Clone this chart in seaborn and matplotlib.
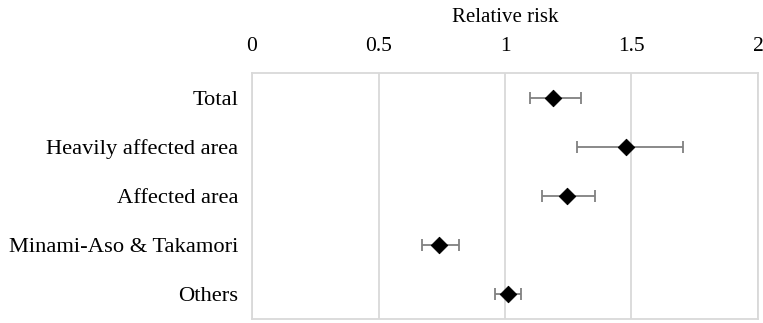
import numpy as np
import pandas as pd
import matplotlib
matplotlib.use("Agg")
import matplotlib.pyplot as plt
import seaborn as sns

# Values
groups = ["Total", "Heavily affected area", "Affected area",
          "Minami-Aso & Takamori", "Others"]
rr = [1.19, 1.48, 1.245, 0.74, 1.01]
ci_low = [1.10, 1.285, 1.145, 0.67, 0.96]
ci_high = [1.30, 1.705, 1.355, 0.82, 1.065]
x_ticks = [0, 0.5, 1, 1.5, 2]
x_tick_labels = ["0", "0.5", "1", "1.5", "2"]

df = pd.DataFrame({"group": groups, "rr": rr, "lo": ci_low, "hi": ci_high})

sns.set_style("white")
plt.rcParams["font.family"] = ["Liberation Serif", "DejaVu Serif"]
plt.rcParams["text.color"] = "black"
plt.rcParams["xtick.color"] = "black"
plt.rcParams["ytick.color"] = "black"
plt.rcParams["axes.labelcolor"] = "black"

fig = plt.figure(figsize=(7.63, 3.23), dpi=100)
ax = fig.add_axes([0.3303, 0.0124, 0.6631, 0.7616])

pos = np.arange(len(groups))
ax.errorbar(df["rr"], pos,
            xerr=[df["rr"] - df["lo"], df["hi"] - df["rr"]],
            fmt="none", ecolor="#808080", elinewidth=1.3, capsize=4, capthick=1.3,
            zorder=2)
sns.scatterplot(data=df, x="rr", y=pos, marker="D", color="black", s=70,
                edgecolor="black", ax=ax, zorder=3)

ax.set_xlim(0, 2)
ax.set_ylim(len(groups) - 0.5, -0.5)
ax.set_yticks(pos)
ax.set_yticklabels(groups, fontsize=16.2)
ax.set_xticks(x_ticks)
ax.set_xticklabels(x_tick_labels, fontsize=15.5)
ax.xaxis.tick_top()
ax.xaxis.set_label_position("top")
ax.set_xlabel("Relative risk", fontsize=15, labelpad=10.5)
ax.set_ylabel("")
ax.tick_params(axis="x", length=0, pad=12.5)
ax.tick_params(axis="y", length=0, pad=10)
ax.grid(axis="x", color="#d9d9d9", linewidth=1.3)
ax.set_axisbelow(True)
for s in ax.spines.values():
    s.set_color("#d9d9d9")
    s.set_linewidth(1.3)

fig.savefig("out.png", dpi=100)
